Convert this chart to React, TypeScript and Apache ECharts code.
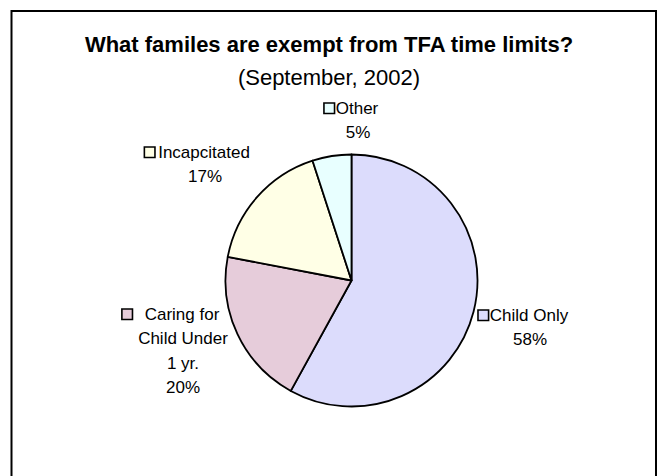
import React, { useEffect, useRef } from "react";
import * as echarts from "echarts";

const titleText = "What familes are exempt from TFA time limits?";
const subtitleText = "(September, 2002)";
const categories = ["Child Only", "Caring for\nChild Under\n1 yr.", "Incapcitated", "Other"];
const values = [58, 20, 17, 5];
const colors = ["#DCDCFC", "#E6CCDA", "#FFFFE6", "#E8FFFF"];

// label block centres (layout, not data)
const labelAnchors: [number, number][] = [
  [530, 327.5],
  [183, 351],
  [205, 164.5],
  [358, 120.5],
];
const keyGaps = [2, 13, 4, 2];

const FONT = "Liberation Sans, Arial, sans-serif";

export default function App() {
  const ref = useRef<HTMLDivElement>(null);
  useEffect(() => {
    document.body.style.margin = "0";
    document.body.style.overflow = "hidden";
    const chart = echarts.init(ref.current!, null, { renderer: "svg" });
    const rich: Record<string, any> = { s: { width: 11, height: 10 } };
    colors.forEach((c, i) => {
      rich["k" + i] = {
        width: 9,
        height: 9,
        backgroundColor: c,
        borderColor: "#000",
        borderWidth: 1.6,
      };
      rich["g" + i] = { width: keyGaps[i], height: 10 };
    });
    chart.setOption({
      animation: false,
      backgroundColor: "#fff",
      title: [
        {
          text: titleText,
          left: "center",
          top: 33,
          padding: 0,
          textStyle: { fontFamily: FONT, fontWeight: "bold", fontSize: 22, color: "#000" },
        },
        {
          text: subtitleText,
          left: "center",
          top: 66,
          padding: 0,
          textStyle: { fontFamily: FONT, fontWeight: "normal", fontSize: 22, color: "#000" },
        },
      ],
      graphic: [
        {
          type: "rect",
          silent: true,
          shape: { x: 11.5, y: 11, width: 644.5, height: 500 },
          style: { fill: "none", stroke: "#000", lineWidth: 2 },
        },
      ],
      series: [
        {
          type: "pie",
          center: [351.5, 280.5],
          radius: 126,
          startAngle: 90,
          clockwise: true,
          avoidLabelOverlap: false,
          percentPrecision: 0,
          itemStyle: { borderColor: "#000", borderWidth: 1.8 },
          emphasis: { disabled: true },
          labelLine: { show: false },
          label: {
            show: true,
            position: "outside",
            fontFamily: FONT,
            fontSize: 17,
            lineHeight: 24.5,
            color: "#000",
            align: "center",
            rich,
            formatter: (p: any) => {
              const i = p.dataIndex;
              const lines = String(p.name).split("\n");
              lines[0] = `{k${i}|}{g${i}|}${lines[0]}{g${i}|}{s|}`;
              return lines.join("\n") + "\n" + p.percent + "%";
            },
          },
          labelLayout: (params: any) => ({
            x: labelAnchors[params.dataIndex][0],
            y: labelAnchors[params.dataIndex][1],
            align: "center",
            verticalAlign: "middle",
          }),
          data: categories.map((name, i) => ({
            name,
            value: values[i],
            itemStyle: { color: colors[i] },
          })),
        },
      ],
    });
    return () => chart.dispose();
  }, []);
  return <div ref={ref} style={{ width: 658, height: 476 }} />;
}
